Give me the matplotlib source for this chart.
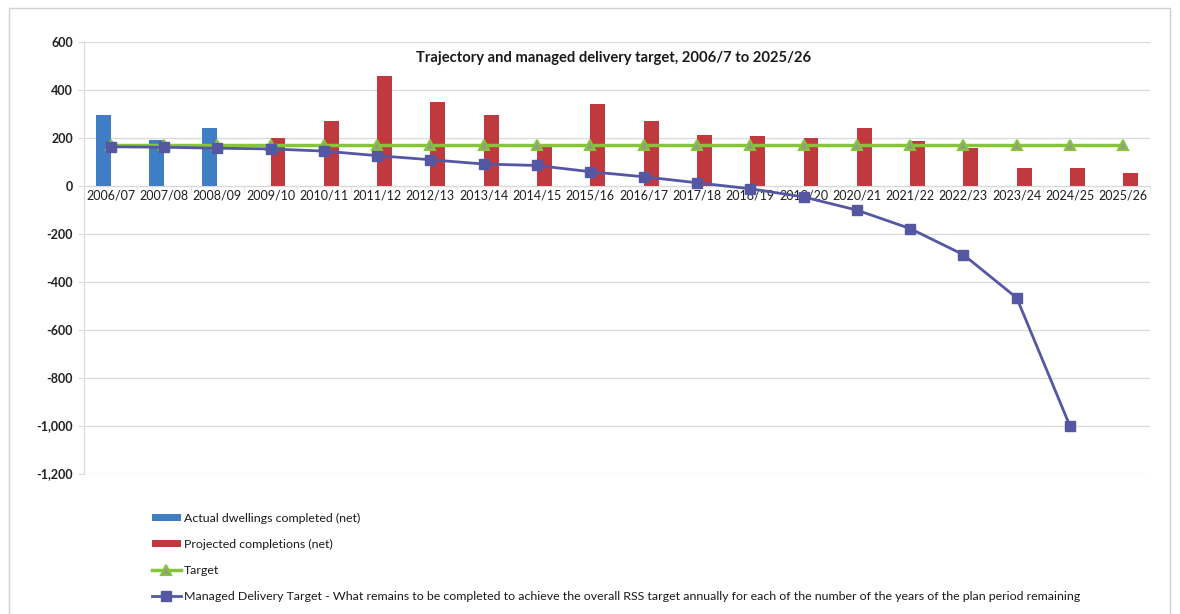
import matplotlib
matplotlib.use("Agg")
import matplotlib.pyplot as plt
import numpy as np
from matplotlib.patches import Rectangle
from matplotlib.ticker import FuncFormatter, FixedLocator

plt.rcParams['font.family'] = ['Lato', 'DejaVu Sans']

years = ["2006/07", "2007/08", "2008/09", "2009/10", "2010/11", "2011/12", "2012/13",
         "2013/14", "2014/15", "2015/16", "2016/17", "2017/18", "2018/19", "2019/20",
         "2020/21", "2021/22", "2022/23", "2023/24", "2024/25", "2025/26"]
actual = [296, 190, 240, np.nan, np.nan, np.nan, np.nan, np.nan, np.nan, np.nan,
          np.nan, np.nan, np.nan, np.nan, np.nan, np.nan, np.nan, np.nan, np.nan, np.nan]
projected = [np.nan, np.nan, np.nan, 200, 271, 455, 348, 294, 168, 341,
             270, 210, 206, 197, 242, 186, 157, 73, 72, 51]
target = [170] * 20
managed = [162, 160, 156, 153, 144, 125, 108, 90, 84, 58,
           37, 12, -13, -47, -102, -179, -288, -468, -1003, np.nan]

labels = ["Actual dwellings completed (net)",
          "Projected completions (net)",
          "Target",
          "Managed Delivery Target - What remains to be completed to achieve the overall RSS target annually for each of the number of the years of the plan period remaining"]
title = "Trajectory and managed delivery target, 2006/7 to 2025/26"

W, H = 1180, 614
fig = plt.figure(figsize=(W / 100, H / 100), dpi=100)
fig.patch.set_facecolor('white')

# outer frame
fig.add_artist(Rectangle((9 / W, -0.05), (1170 - 9) / W, 1.05 - 8 / H,
                         transform=fig.transFigure, fill=False,
                         edgecolor='#D0D0D0', lw=1.0))

ax = fig.add_axes([84 / W, 1 - 473.5 / H, (1150 - 84) / W, (473.5 - 41.7) / H])
x = np.arange(len(years))
bw = 0.28
h_act = ax.bar(x - bw / 2, actual, width=bw, color='#3F7DC4', label=labels[0], zorder=2)
h_proj = ax.bar(x + bw / 2, projected, width=bw, color='#C0393F', label=labels[1], zorder=2)
h_tgt, = ax.plot(x, target, color='#86C43A', lw=2.5, marker='^', ms=7,
                 markerfacecolor='#949C84', markeredgecolor='#86C43A', markeredgewidth=1.5,
                 label=labels[2], zorder=3)
h_mdt, = ax.plot(x, managed, color='#5557A3', lw=2, marker='s', ms=7,
                 markerfacecolor='#5557A3', markeredgecolor='#5557A3',
                 label=labels[3], zorder=4)

ax.set_xlim(-0.5, len(years) - 0.5)
ax.set_ylim(-1200, 600)
ax.set_yticks(np.arange(-1200, 601, 200))
ax.yaxis.set_major_formatter(FuncFormatter(lambda v, p: f"{v:,.0f}"))
ax.grid(axis='y', color='#D9D9D9', lw=0.9, zorder=0)
ax.set_axisbelow(True)

for s in ['top', 'right']:
    ax.spines[s].set_visible(False)
ax.spines['left'].set_color('#D9D9D9')
ax.spines['bottom'].set_position(('data', 0))
ax.spines['bottom'].set_color('#D9D9D9')

ax.set_xticks(x)
ax.set_xticklabels(years)
ax.xaxis.set_minor_locator(FixedLocator(np.arange(-0.5, len(years), 1.0)))
ax.tick_params(axis='x', which='major', length=0, pad=3, labelsize=9, labelcolor='#1E1E1E')
ax.tick_params(axis='x', which='minor', length=4, color='#E2E2E2', direction='out')
ax.tick_params(axis='y', length=4, color='#D9D9D9', pad=4, labelsize=9, labelcolor='#222222')
for t in ax.get_yticklabels():
    t.set_fontweight('bold')

fig.text(614 / W, 1 - 58 / H, title, ha='center', va='center',
         fontsize=10.6, fontweight='bold', color='#1A1A1A')

leg = fig.legend([h_act, h_proj, h_tgt, h_mdt], labels, loc='upper left',
                 bbox_to_anchor=(152 / W, 1 - 513 / H), ncol=1, frameon=False,
                 fontsize=8.95, labelspacing=1.2, handlelength=2.3, handleheight=0.55,
                 handletextpad=0.3, borderaxespad=0, borderpad=0)
for t in leg.get_texts():
    t.set_color('#1A1A1A')

fig.savefig('out.png', dpi=100, facecolor='white')
